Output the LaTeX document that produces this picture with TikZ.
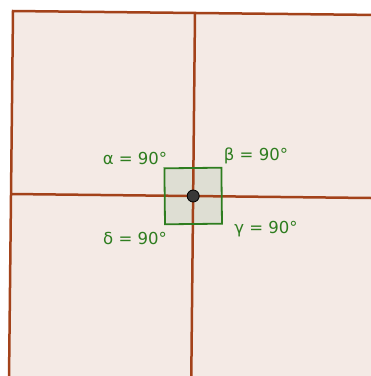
\documentclass[tikz,border=0pt]{standalone}
\usepackage{fontspec}
\setmainfont{DejaVu Sans}
\usetikzlibrary{calc}
\begin{document}
\begin{tikzpicture}[x=1pt,y=-1pt,
  edge/.style={draw=linec,line width=2.5pt},
  lbl/.style={text=labc,font=\fontsize{16.5}{19}\selectfont,inner sep=0pt}]
\definecolor{fillc}{HTML}{F4EAE5}
\definecolor{linec}{HTML}{A3421A}
\definecolor{labc}{HTML}{2E7D1F}
\definecolor{sqfill}{HTML}{DEDED3}
\useasboundingbox (0,0) rectangle (371,376);
\begin{scope}
\clip (0,0) rectangle (371,376);
\fill[fillc] (13,11) -- (380,15) -- (380,380) -- (9,380) -- cycle;
\draw[edge] (9,380) -- (13,11) -- (380,15);
\coordinate (vt) at (195,13);
\coordinate (vb) at (191.3,376);
\coordinate (hl) at (11,194);
\coordinate (hr) at (371,198);
\coordinate (P) at (193.2,196);
\fill[sqfill,rotate around={0.6:(P)}] ($(P)+(-28.5,-28)$) rectangle ($(P)+(28.5,28)$);
\draw[edge] (vt) -- (vb);
\draw[edge] (hl) -- (hr);
\draw[draw=labc,line width=1.8pt,rotate around={0.6:(P)}] ($(P)+(-28.5,-28)$) rectangle ($(P)+(28.5,28)$);
\node[circle,fill=black!78,draw=black,line width=0.8pt,minimum size=12pt,inner sep=0pt] (pt) at (P) {};
\end{scope}
\node[lbl] (a) at (135,158) {α = 90°};
\node[lbl] (b) at (256,156) {β = 90°};
\node[lbl] (d) at (135,238) {δ = 90°};
\node[lbl] (g) at (266,229) {γ = 90°};
\end{tikzpicture}
\end{document}
